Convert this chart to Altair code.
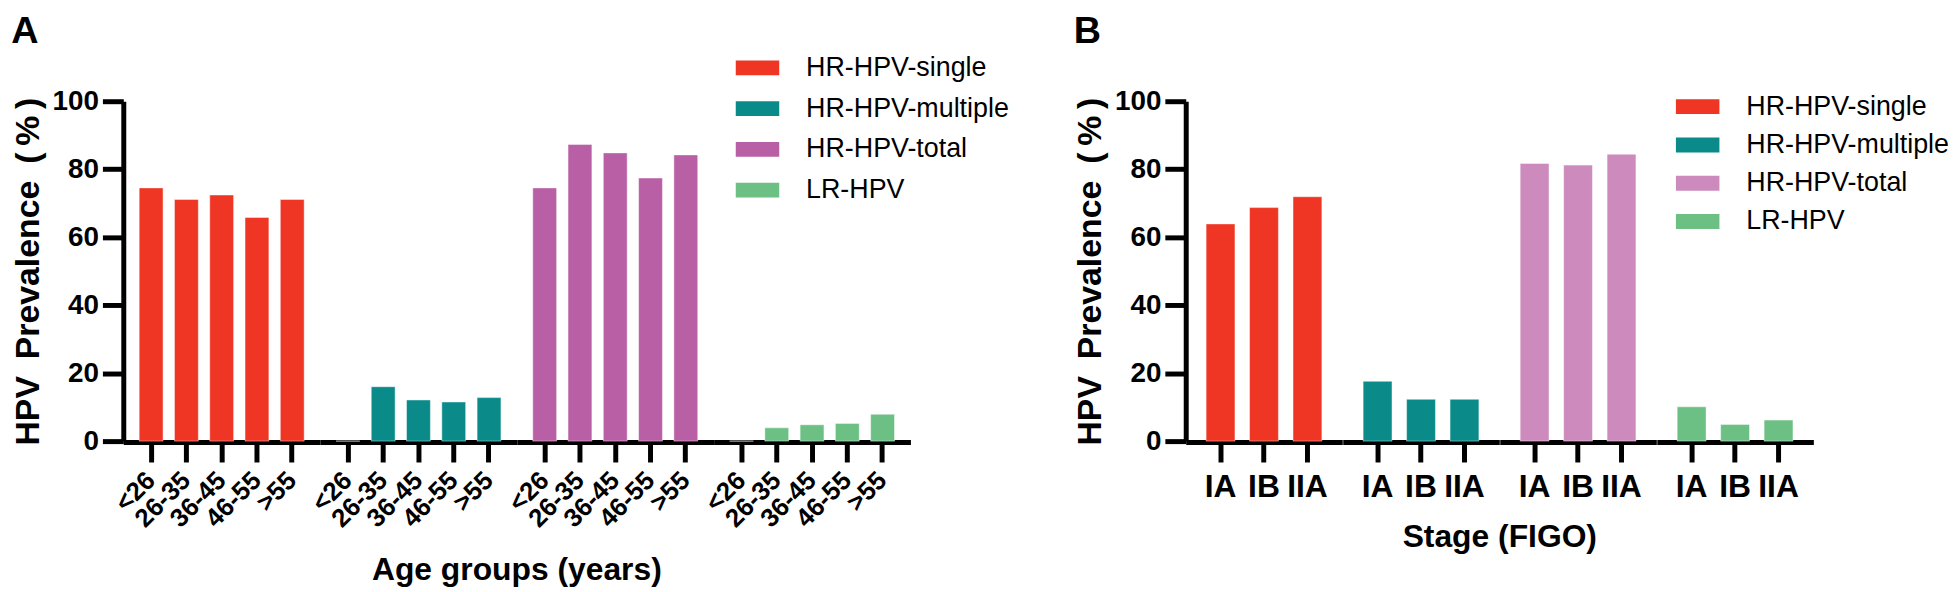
import altair as alt
import pandas as pd

FONT = "Liberation Sans, Arial, sans-serif"

# ---------------- data ----------------
groups = ["HR-HPV-single", "HR-HPV-multiple", "HR-HPV-total", "LR-HPV"]

ages = ["<26", "26-35", "36-45", "46-55", ">55"]
a_single = [74.5, 71.1, 72.4, 65.8, 71.1]
a_multiple = [0.0, 16.0, 12.1, 11.5, 12.8]
a_total = [74.5, 87.3, 84.8, 77.4, 84.2]
a_lr = [0.0, 3.9, 4.8, 5.2, 7.9]

stages = ["IA", "IB", "IIA"]
b_single = [63.9, 68.7, 71.9]
b_multiple = [17.6, 12.3, 12.3]
b_total = [81.7, 81.2, 84.4]
b_lr = [10.1, 4.9, 6.2]

colors_a = ["#EF3524", "#0A8B8A", "#B95FA5", "#6CC084"]
colors_b = ["#EF3524", "#0A8B8A", "#CD8BBD", "#6CC084"]

y_ticks = [0, 20, 40, 60, 80, 100]
y_title = "HPV\u2002Prevalence\u2002(\u2009%\u2009)"


def long_table(cats, series, catname):
    rows = []
    for g, vals in zip(groups, series):
        for c, v in zip(cats, vals):
            rows.append({"group": g, catname: c, "value": v})
    return pd.DataFrame(rows)


df_a = long_table(ages, [a_single, a_multiple, a_total, a_lr], "age")
df_b = long_table(stages, [b_single, b_multiple, b_total, b_lr], "stage")


def y_enc():
    return alt.Y(
        "value:Q",
        scale=alt.Scale(domain=[0, 100], nice=False),
        axis=alt.Axis(
            values=y_ticks,
            title=y_title,
            titleFont=FONT,
            titleFontSize=34,
            titleFontWeight="bold",
            titleColor="black",
            titlePadding=7,
            labelFont=FONT,
            labelFontSize=28,
            labelFontWeight="bold",
            labelColor="black",
            labelPadding=4,
            tickSize=21,
            tickWidth=5,
            tickColor="black",
            domainWidth=5,
            domainColor="black",
            grid=False,
        ),
    )


def legend(x, y, row_pad):
    return alt.Legend(
        title=None,
        orient="none",
        legendX=x,
        legendY=y,
        padding=0,
        labelFont=FONT,
        labelFontSize=27,
        labelColor="black",
        labelOffset=27,
        labelLimit=0,
        symbolType="M-1,-0.34H1V0.34H-1Z",
        symbolSize=1936,
        symbolStrokeWidth=0,
        clipHeight=27,
        rowPadding=row_pad,
    )


bar_style = dict(stroke="white", strokeOpacity=0.45, strokeWidth=1)

# ---------------- panel A ----------------
chart_a = (
    alt.Chart(df_a)
    .mark_bar(**bar_style)
    .encode(
        x=alt.X(
            "age:N",
            sort=ages,
            scale=alt.Scale(paddingInner=0.324, paddingOuter=0.451),
            axis=alt.Axis(
                title=None,
                labelAngle=-45,
                labelAlign="right",
                labelBaseline="middle",
                labelFont=FONT,
                labelFontSize=26,
                labelFontWeight="bold",
                labelColor="black",
                labelPadding=14,
                tickSize=20,
                tickWidth=5,
                tickColor="black",
                domainWidth=5,
                domainColor="black",
            ),
        ),
        y=y_enc(),
        color=alt.Color(
            "group:N",
            sort=groups,
            scale=alt.Scale(domain=groups, range=colors_a),
            legend=legend(616, -47, 13),
        ),
    )
    .properties(width=198, height=342)
    .facet(
        column=alt.Column(
            "group:N",
            sort=groups,
            header=alt.Header(
                title="Age groups (years)",
                titleOrient="bottom",
                labels=False,
                titleFont=FONT,
                titleFontSize=32,
                titleFontWeight="bold",
                titleColor="black",
                titlePadding=13,
            ),
        ),
        spacing=0,
    )
    .properties(
        title=alt.Title(
            "A", anchor="start", frame="bounds", fontSize=38, fontWeight="bold",
            font=FONT, color="black", offset=4,
        )
    )
)

# ---------------- panel B ----------------
chart_b = (
    alt.Chart(df_b)
    .mark_bar(**bar_style)
    .encode(
        x=alt.X(
            "stage:N",
            sort=stages,
            scale=alt.Scale(paddingInner=0.336, paddingOuter=0.469),
            axis=alt.Axis(
                title=None,
                labelAngle=0,
                labelFont=FONT,
                labelFontSize=32,
                labelFontWeight="bold",
                labelColor="black",
                labelPadding=10,
                tickSize=20,
                tickWidth=5,
                tickColor="black",
                domainWidth=5,
                domainColor="black",
            ),
        ),
        y=y_enc(),
        color=alt.Color(
            "group:N",
            sort=groups,
            scale=alt.Scale(domain=groups, range=colors_b),
            legend=legend(493, -8, 10.5),
        ),
    )
    .properties(width=157.5, height=342)
    .facet(
        column=alt.Column(
            "group:N",
            sort=groups,
            header=alt.Header(
                title="Stage (FIGO)",
                titleOrient="bottom",
                labels=False,
                titleFont=FONT,
                titleFontSize=32,
                titleFontWeight="bold",
                titleColor="black",
                titlePadding=10,
            ),
        ),
        spacing=0,
    )
    .properties(
        title=alt.Title(
            "B", anchor="start", frame="bounds", fontSize=38, fontWeight="bold",
            font=FONT, color="black", offset=37,
        )
    )
)

chart = (
    alt.hconcat(chart_a, chart_b, spacing=64)
    .resolve_scale(color="independent")
    .resolve_legend(color="independent")
    .configure_view(strokeWidth=0)
    .properties(padding={"left": 3, "top": 3, "right": 0, "bottom": 0})
)

chart.save("out.html", embed_options={"renderer": "svg", "actions": False})
